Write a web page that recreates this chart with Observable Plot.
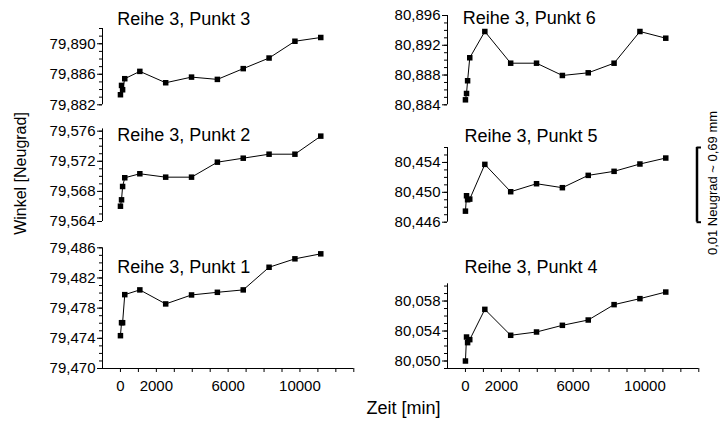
<!DOCTYPE html>
<html>
<head>
<meta charset="utf-8">
<script src="https://cdn.jsdelivr.net/npm/d3@7"></script>
<script src="https://cdn.jsdelivr.net/npm/@observablehq/plot@0.6"></script>
<style>
  html, body { margin: 0; padding: 0; background: #fff; }
  #chart { position: relative; width: 720px; height: 421px; overflow: hidden; background: #fff; }
  #chart svg { position: absolute; left: 0; top: 0; }
</style>
</head>
<body>
<div id="chart"></div>
<script>
// ---------- data ----------
const times = [0, 60, 120, 240, 1080, 2520, 3960, 5400, 6840, 8280, 9720, 11160];

const punkt1 = [79.47435, 79.47607, 79.47607, 79.47979, 79.48042, 79.47856, 79.47975, 79.48010, 79.48042, 79.48342, 79.48454, 79.48520];
const punkt2 = [79.56603, 79.56688, 79.56865, 79.56981, 79.57034, 79.56989, 79.56989, 79.57188, 79.57241, 79.57294, 79.57294, 79.57534];
const punkt3 = [79.88332, 79.88454, 79.88397, 79.88542, 79.88638, 79.88489, 79.88563, 79.88533, 79.88674, 79.88813, 79.89033, 79.89082];
const punkt4 = [80.05000, 80.05320, 80.05245, 80.05285, 80.05689, 80.05343, 80.05387, 80.05476, 80.05547, 80.05752, 80.05832, 80.05920];
const punkt5 = [80.44748, 80.44954, 80.44901, 80.44909, 80.45374, 80.45008, 80.45115, 80.45062, 80.45227, 80.45281, 80.45379, 80.45459];
const punkt6 = [80.88467, 80.88552, 80.88723, 80.89032, 80.89385, 80.88959, 80.88959, 80.88794, 80.88830, 80.88959, 80.89385, 80.89295];

const titles = ["Reihe 3, Punkt 1", "Reihe 3, Punkt 2", "Reihe 3, Punkt 3", "Reihe 3, Punkt 4", "Reihe 3, Punkt 5", "Reihe 3, Punkt 6"];

// tick labels
const yLabels1 = [79.470, 79.474, 79.478, 79.482, 79.486];
const yLabels2 = [79.564, 79.568, 79.572, 79.576];
const yLabels3 = [79.882, 79.886, 79.890];
const yLabels4 = [80.050, 80.054, 80.058];
const yLabels5 = [80.446, 80.450, 80.454];
const yLabels6 = [80.884, 80.888, 80.892, 80.896];

// axis extents
const yDomain1 = [79.470, 79.486];
const yDomain2 = [79.564, 79.5763];
const yDomain3 = [79.882, 79.892];
const yDomain4 = [80.049, 80.0603];
const yDomain5 = [80.446, 80.456];
const yDomain6 = [80.884, 80.896];

const xDomain = [-1000, 13000];
const xTicks = [0, 1000, 2000, 3000, 4000, 5000, 6000, 7000, 8000, 9000, 10000, 11000, 12000, 13000];
const xLabels = [0, 2000, 6000, 10000];

const xTitle = "Zeit [min]";
const yTitle = "Winkel [Neugrad]";
const scaleLabel = "0,01 Neugrad ~ 0,69 mm";
const scaleStep = 0.001;

// ---------- layout ----------
const FONT = "'Liberation Sans', Arial, Helvetica, sans-serif";
const INK = "#000";
const cols = { left: { ml: 102, mr: 366.7 }, right: { ml: 447, mr: 21.7 } };

const panels = [
  { title: titles[2], values: punkt3, domain: yDomain3, labels: yLabels3, col: "left",  mt: 28,    mb: 316.7, tdx: 14.7, tdy: -4 },
  { title: titles[1], values: punkt2, domain: yDomain2, labels: yLabels2, col: "left",  mt: 128.4, mb: 200,   tdx: 14.7, tdy: 12.3, yTitle: true },
  { title: titles[0], values: punkt1, domain: yDomain1, labels: yLabels1, col: "left",  mt: 247.3, mb: 53,    tdx: 14.7, tdy: 25.5, xAxis: true, xTitle: true },
  { title: titles[5], values: punkt6, domain: yDomain6, labels: yLabels6, col: "right", mt: 15,    mb: 316.7, tdx: 15.3, tdy: 8.5 },
  { title: titles[4], values: punkt5, domain: yDomain5, labels: yLabels5, col: "right", mt: 147,   mb: 199.3, tdx: 17,   tdy: -6, scaleBar: true },
  { title: titles[3], values: punkt4, domain: yDomain4, labels: yLabels4, col: "right", mt: 283.3, mb: 53,    tdx: 17,   tdy: -10.8, xAxis: true }
];

const fmtY = d => d3.format(".3f")(d).replace(".", ",");
const fmtX = d3.format("d");

function panel(p) {
  const data = times.map((t, i) => ({ t, v: p.values[i] }));
  const c = cols[p.col];
  const minor = d3.ticks(p.domain[0], p.domain[1], Math.round((p.domain[1] - p.domain[0]) / scaleStep));
  const marks = [
    Plot.ruleX([xDomain[0]], { stroke: INK, strokeWidth: 1 }),
    Plot.axisY(minor, { tickSize: 3, fill: "none", stroke: INK, label: null }),
    Plot.axisY(p.labels, { tickSize: 5, tickPadding: 2, tickFormat: fmtY, label: null, fontSize: 15, fill: INK, stroke: INK }),
    Plot.line(data, { x: "t", y: "v", stroke: INK, strokeWidth: 1 }),
    Plot.dot(data, { x: "t", y: "v", symbol: "square", r: 3.1, fill: INK, stroke: "none" }),
    Plot.text([p.title], { text: d => d, frameAnchor: "top-left", textAnchor: "start", lineAnchor: "bottom",
      dx: p.tdx, dy: p.tdy, fontSize: 18, fill: INK })
  ];
  if (p.xAxis) {
    marks.push(
      Plot.ruleY([p.domain[0]], { stroke: INK, strokeWidth: 1 }),
      Plot.axisX(xTicks, { tickSize: 4, fill: "none", stroke: INK, label: null }),
      Plot.axisX(xLabels, { tickSize: 0, tickPadding: 12, tickFormat: fmtX, label: null, fontSize: 15, fill: INK })
    );
  }
  if (p.xTitle) {
    marks.push(Plot.text([xTitle], { text: d => d, frameAnchor: "bottom", lineAnchor: "bottom",
      dx: 175.4, dy: 45, fontSize: 18, fill: INK }));
  }
  if (p.yTitle) {
    marks.push(Plot.text([yTitle], { text: d => d, frameAnchor: "left", rotate: -90, textAnchor: "middle",
      lineAnchor: "middle", dx: -81.5, dy: -1.7, fontSize: 16, fill: INK }));
  }
  if (p.scaleBar) {
    const xEnd = xDomain[1];
    marks.push(
      Plot.ruleX([xEnd], { y1: () => p.domain[0], y2: () => p.domain[1], stroke: INK, strokeWidth: 2.5, dx: -1.8 }),
      Plot.ruleY(p.domain, { x1: () => xEnd, x2: () => xEnd + 250, stroke: INK, strokeWidth: 2, dx: -1.8 }),
      Plot.text([scaleLabel], { text: d => d, frameAnchor: "right", rotate: -90, textAnchor: "middle",
        lineAnchor: "middle", dx: 14.2, dy: -1.85, fontSize: 13, fill: INK })
    );
  }
  return Plot.plot({
    width: 720,
    height: 421,
    marginLeft: c.ml,
    marginRight: c.mr,
    marginTop: p.mt,
    marginBottom: p.mb,
    style: { background: "transparent", overflow: "visible", fontFamily: FONT, color: INK },
    x: { domain: xDomain, axis: null },
    y: { domain: p.domain, axis: null },
    marks
  });
}

const chart = document.getElementById("chart");
for (const p of panels) chart.appendChild(panel(p));
</script>
</body>
</html>
